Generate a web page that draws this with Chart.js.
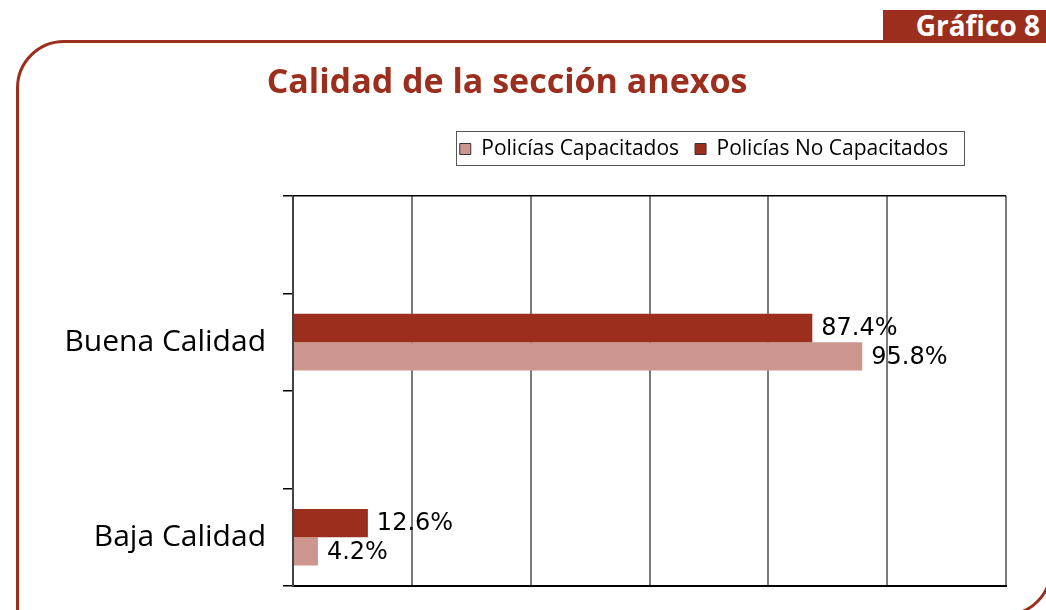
<!DOCTYPE html>
<html>
<head>
<meta charset="utf-8">
<script src="https://cdn.jsdelivr.net/npm/chart.js@4"></script>
<style>
  body { margin: 0; width: 1046px; height: 610px; overflow: hidden; background: #fff; position: relative; }
  .frame { position: absolute; left: 16px; top: 40px; width: 1036px; height: 576px; box-sizing: border-box;
           border: 3px solid #9b2e1c; border-radius: 48px 0 46px 0; }
  .tag { position: absolute; left: 883px; top: 10px; width: 163px; height: 30px; background: #9b2e1c;
         color: #fff; font: bold 28px 'Open Sans', sans-serif; line-height: 30px; text-align: right;
         padding-right: 6px; box-sizing: border-box; }
  .wrap { position: absolute; left: 0; top: 0; width: 1046px; height: 610px; }
</style>
</head>
<body>
<div class="frame"></div>
<div class="tag">Gráfico 8</div>
<div class="wrap"><canvas id="myChart"></canvas></div>
<script>
const categories = ['', 'Buena Calidad', '', 'Baja Calidad']
const noCapacitados = [null, 87.4, null, 12.6]
const capacitados = [null, 95.8, null, 4.2]
const xTicks = [0, 20, 40, 60, 80, 100, 120]

const red = '#9b2e1c'
const pink = '#cc968e'

// labels at the end of each bar
const barLabels = {
    id: 'barLabels',
    afterDatasetsDraw(chart) {
        const ctx = chart.ctx
        ctx.save()
        ctx.font = '24px "DejaVu Sans"'
        ctx.fillStyle = '#000'
        ctx.textAlign = 'left'
        ctx.textBaseline = 'middle'
        chart.data.datasets.forEach((ds, i) => {
            chart.getDatasetMeta(i).data.forEach((bar, j) => {
                if (ds.data[j] == null) return
                ctx.fillText(ds.data[j].toFixed(1) + '%', bar.x + 9, bar.y + 1)
            })
        })
        ctx.restore()
    }
}

// move title / legend, draw legend box and top border of the plot
const frameBits = {
    id: 'frameBits',
    afterLayout(chart) {
        const t = chart.titleBlock
        const titleShift = 507 - (t.left + t.right) / 2
        t.left += titleShift
        t.right += titleShift
    },
    afterUpdate(chart) {
        const lg = chart.legend
        const boxes = lg.legendHitBoxes
        const first = boxes[0]
        const last = boxes[boxes.length - 1]
        const dx = 704 - (first.left + last.left + last.width) / 2
        const dy = 149 - (first.top + first.height / 2)
        lg.left += dx
        lg.right += dx
        lg.top += dy
        lg.bottom += dy
        boxes.forEach(b => { b.left += dx; b.top += dy })
    },
    afterDraw(chart) {
        const ctx = chart.ctx
        const a = chart.chartArea
        ctx.save()
        ctx.strokeStyle = '#000'
        ctx.lineWidth = 1.5
        ctx.beginPath()
        ctx.moveTo(a.left, a.top)
        ctx.lineTo(a.right, a.top)
        ctx.stroke()
        const boxes = chart.legend.legendHitBoxes
        const first = boxes[0]
        const last = boxes[boxes.length - 1]
        ctx.strokeStyle = '#555'
        ctx.lineWidth = 1
        ctx.strokeRect(Math.round(first.left) - 3.5, 131.5, Math.round(last.left + last.width - first.left) + 20, 34)
        ctx.restore()
    }
}

new Chart(document.getElementById('myChart'), {
    type: 'bar',
    data: {
        labels: categories,
        datasets: [{
            label: 'Policías No Capacitados',
            data: noCapacitados,
            backgroundColor: red,
            categoryPercentage: 0.58,
            barPercentage: 1
        }, {
            label: 'Policías Capacitados',
            data: capacitados,
            backgroundColor: pink,
            categoryPercentage: 0.58,
            barPercentage: 1
        }]
    },
    options: {
        indexAxis: 'y',
        responsive: true,
        maintainAspectRatio: false,
        animation: false,
        layout: { padding: { left: 30, right: 40, top: 0, bottom: 24 } },
        plugins: {
            title: {
                display: true,
                text: 'Calidad de la sección anexos',
                color: red,
                font: { family: 'Open Sans', size: 34, weight: 'bold' },
                padding: { top: 63, bottom: 45 }
            },
            legend: {
                reverse: true,
                labels: {
                    color: '#000',
                    font: { family: 'Open Sans', size: 21 },
                    boxWidth: 11,
                    boxHeight: 11,
                    padding: 16,
                    generateLabels(chart) {
                        const items = Chart.defaults.plugins.legend.labels.generateLabels(chart)
                        items.forEach(it => { it.lineWidth = 1; it.strokeStyle = '#333' })
                        return items
                    }
                }
            },
            tooltip: { enabled: false }
        },
        scales: {
            x: {
                min: 0,
                max: 120,
                afterBuildTicks(scale) { scale.ticks = xTicks.map(v => ({ value: v })) },
                afterFit(scale) { scale.height = 0 },
                ticks: { display: false },
                grid: { color: '#7a7a7a', lineWidth: 2, drawTicks: false },
                border: { color: '#000', width: 2 }
            },
            y: {
                afterFit(scale) {
                    scale.width = 263
                    scale.paddingTop = 0
                    scale.paddingBottom = 0
                },
                ticks: { color: '#000', font: { family: 'Open Sans', size: 30 }, padding: 17 },
                grid: { drawOnChartArea: false, drawTicks: true, tickLength: 10, color: '#000', lineWidth: 1.5 },
                border: { color: '#444', width: 2 }
            }
        }
    },
    plugins: [barLabels, frameBits]
});
</script>
</body>
</html>
